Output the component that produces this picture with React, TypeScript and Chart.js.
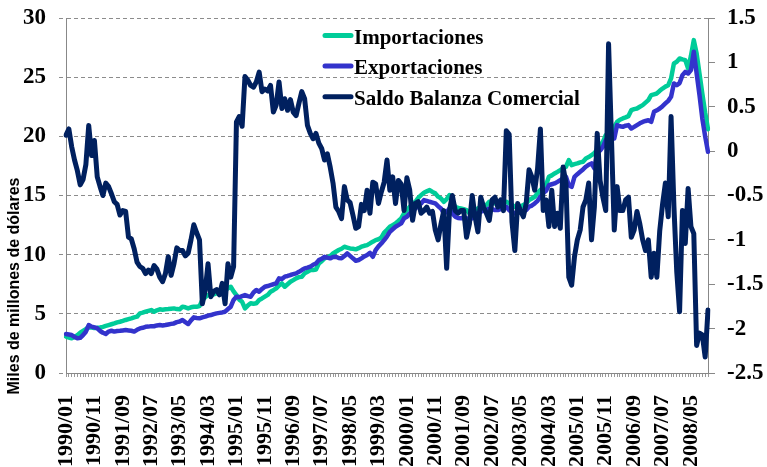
import React, { useEffect, useRef } from 'react';
import { Chart, registerables } from 'chart.js';

Chart.register(...registerables);

// Monthly categories 1990/01 .. 2008/11
const firstYear = 1990;
const monthCount = 227;
const months: string[] = [];
for (let k = 0; k < monthCount; k++) {
  const yy = firstYear + Math.floor(k / 12);
  const mm = (k % 12) + 1;
  months.push(`${yy}/${mm < 10 ? '0' + mm : mm}`);
}
const labelEvery = 10;

const seriesNames = ['Importaciones', 'Exportaciones', 'Saldo Balanza Comercial'];

const importaciones: number[] = [
  3.07, 3.00, 2.93, 3.05, 3.20, 3.40, 3.55, 3.70, 3.90, 3.85,
  3.80, 3.82, 3.85, 3.90, 3.98, 4.05, 4.12, 4.19, 4.28, 4.33,
  4.40, 4.48, 4.55, 4.62, 4.70, 4.76, 5.04, 5.10, 5.18, 5.25,
  5.32, 5.18, 5.30, 5.38, 5.35, 5.38, 5.40, 5.43, 5.46, 5.40,
  5.38, 5.60, 5.55, 5.46, 5.55, 5.60, 5.60, 5.65, 6.17, 6.40,
  6.59, 6.59, 6.65, 6.73, 6.80, 6.87, 7.01, 7.15, 7.29, 6.90,
  6.59, 6.20, 6.02, 5.46, 5.70, 5.89, 5.85, 5.89, 6.17, 6.30,
  6.45, 6.60, 6.87, 7.00, 7.15, 7.40, 7.57, 7.29, 7.50, 7.71,
  7.85, 8.00, 8.10, 8.14, 8.42, 8.55, 8.70, 8.70, 8.75, 9.26,
  9.45, 9.69, 9.80, 9.88, 10.10, 10.25, 10.39, 10.50, 10.67, 10.60,
  10.53, 10.50, 10.45, 10.55, 10.67, 10.75, 10.81, 10.95, 11.10, 11.23,
  11.30, 11.45, 11.87, 12.10, 12.36, 12.50, 12.64, 12.85, 13.07, 13.49,
  13.75, 14.05, 14.25, 14.47, 14.80, 15.03, 15.23, 15.35, 15.46, 15.30,
  15.18, 14.90, 14.75, 14.47, 14.70, 15.03, 14.50, 14.05, 13.95, 13.91,
  13.85, 13.77, 13.49, 13.60, 13.77, 13.90, 14.05, 14.12, 14.19, 14.47,
  14.40, 14.33, 14.33, 14.33, 14.40, 14.47, 14.33, 14.20, 14.05, 14.05,
  14.05, 14.20, 14.33, 14.61, 14.75, 14.89, 15.20, 15.45, 15.70, 15.90,
  16.58, 16.70, 16.86, 17.00, 17.15, 17.30, 17.43, 17.99, 17.57, 17.65,
  17.71, 17.80, 17.85, 18.13, 18.25, 18.41, 18.60, 18.83, 19.20, 19.54,
  20.10, 20.25, 20.38, 20.80, 21.22, 21.40, 21.51, 21.60, 21.71, 22.21,
  22.30, 22.35, 22.50, 22.64, 22.85, 23.06, 23.48, 23.55, 23.62, 23.85,
  24.04, 24.20, 24.32, 24.89, 26.16, 26.30, 26.58, 26.50, 26.44, 25.73,
  26.80, 28.13, 27.00, 25.31, 23.62, 22.00, 20.60,
];

const exportaciones: number[] = [
  3.29, 3.25, 3.21, 3.05, 2.93, 2.97, 3.20, 3.49, 4.05, 3.92,
  3.85, 3.78, 3.55, 3.40, 3.30, 3.50, 3.57, 3.50, 3.55, 3.57,
  3.60, 3.63, 3.60, 3.57, 3.50, 3.65, 3.77, 3.82, 3.90, 3.92,
  3.96, 3.95, 4.02, 4.05, 4.02, 4.05, 4.10, 4.15, 4.19, 4.30,
  4.35, 4.48, 4.30, 4.14, 4.45, 4.70, 4.65, 4.62, 4.70, 4.76,
  4.85, 4.90, 4.98, 5.04, 5.08, 5.12, 5.18, 5.40, 5.60, 6.17,
  6.45, 6.40, 6.50, 6.59, 6.50, 6.45, 6.80, 7.01, 6.87, 7.10,
  7.29, 7.35, 7.43, 7.50, 7.57, 8.00, 7.95, 8.14, 8.20, 8.28,
  8.35, 8.42, 8.55, 8.70, 8.84, 8.90, 8.98, 9.15, 9.26, 9.54,
  9.65, 9.82, 9.75, 9.69, 9.80, 9.82, 9.72, 9.69, 9.88, 10.11,
  9.90, 9.69, 9.49, 9.55, 9.69, 9.85, 9.97, 10.15, 9.82, 10.39,
  10.70, 10.95, 11.23, 11.55, 11.93, 12.15, 12.36, 12.50, 12.64, 13.07,
  13.20, 13.49, 13.70, 13.91, 14.15, 14.33, 14.61, 14.55, 14.47, 14.40,
  14.33, 14.10, 13.91, 13.49, 13.60, 13.91, 13.50, 13.21, 13.10, 13.07,
  13.10, 13.07, 12.92, 13.10, 13.35, 13.50, 13.63, 13.70, 13.77, 13.91,
  13.85, 13.77, 13.77, 13.85, 13.95, 14.05, 13.77, 13.60, 13.49, 13.55,
  13.63, 13.70, 13.77, 14.05, 14.15, 14.33, 14.55, 14.90, 15.20, 15.40,
  15.87, 15.95, 16.02, 16.15, 16.30, 16.45, 16.58, 15.87, 15.73, 16.58,
  16.80, 17.00, 17.20, 17.43, 17.60, 17.71, 17.29, 18.55, 18.80, 19.11,
  19.68, 19.90, 20.24, 19.82, 20.95, 20.85, 20.80, 20.90, 20.95, 20.66,
  20.80, 20.95, 21.10, 21.22, 21.30, 21.36, 21.22, 22.07, 22.20, 22.35,
  22.55, 22.78, 23.00, 23.34, 24.47, 24.32, 24.50, 25.17, 25.45, 25.31,
  25.60, 27.14, 25.31, 23.50, 21.50, 20.00, 18.69,
];

const saldo: number[] = [
  0.18, 0.25, 0.05, -0.10, -0.22, -0.38, -0.32, -0.15, 0.29, -0.05,
  0.12, -0.29, -0.40, -0.50, -0.36, -0.40, -0.48, -0.57, -0.60, -0.72,
  -0.67, -0.68, -0.97, -0.99, -1.10, -1.25, -1.30, -1.32, -1.38, -1.34,
  -1.38, -1.29, -1.33, -1.42, -1.47, -1.38, -1.19, -1.40, -1.27, -1.09,
  -1.12, -1.12, -1.18, -1.15, -1.00, -0.83, -0.92, -1.00, -1.72, -1.57,
  -1.27, -1.64, -1.58, -1.56, -1.62, -1.49, -1.72, -1.27, -1.42, -1.30,
  0.33, 0.39, 0.28, 0.84, 0.80, 0.74, 0.72, 0.78, 0.89, 0.67,
  0.70, 0.68, 0.74, 0.44, 0.52, 0.78, 0.48, 0.59, 0.46, 0.58,
  0.44, 0.40, 0.54, 0.67, 0.59, 0.29, 0.20, 0.14, 0.20, 0.09,
  0.03, -0.10, -0.03, -0.18, -0.36, -0.63, -0.68, -0.76, -0.40, -0.55,
  -0.58, -0.72, -0.87, -0.85, -0.60, -0.67, -0.44, -0.70, -0.35, -0.37,
  -0.59, -0.46, -0.35, -0.10, -0.44, -0.29, -0.59, -0.33, -0.37, -0.67,
  -0.30, -0.44, -0.78, -0.59, -0.57, -0.70, -0.67, -0.63, -0.70, -0.68,
  -0.89, -1.00, -0.82, -0.67, -1.32, -0.67, -0.50, -0.67, -0.70, -0.67,
  -0.67, -0.97, -0.82, -0.50, -0.74, -0.91, -0.52, -0.63, -0.70, -0.78,
  -0.55, -0.52, -0.63, -0.55, -0.67, 0.23, 0.19, -0.80, -1.12, -0.59,
  -0.67, -0.74, -0.59, -0.21, -0.29, -0.44, -0.20, 0.25, -0.67, -0.55,
  -0.85, -0.44, -0.85, -0.70, -0.87, -0.18, -0.36, -1.42, -1.51, -1.19,
  -1.00, -0.89, -0.63, -0.55, -0.36, -1.00, -0.63, 0.20, -0.33, -0.52,
  -0.67, 1.21, 0.16, -0.89, -0.40, -0.67, -0.67, -0.55, -0.52, -0.97,
  -0.89, -0.68, -0.82, -1.00, -1.12, -1.00, -1.42, -1.15, -1.42, -0.90,
  -0.60, -0.36, -0.74, 0.39, -0.62, -1.36, -1.81, -0.67, -1.04, -0.42,
  -0.85, -0.93, -2.19, -2.05, -2.07, -2.32, -1.79,
];

const leftTicks = { min: 0, max: 30, step: 5 };
const rightTicks = { min: -2.5, max: 1.5, step: 0.5 };
const yTitle = 'Miles de millones de dólares';

const colors = ['#00CC99', '#3333CC', '#00205F'];

const serif = '"Liberation Serif", "Times New Roman", serif';
const sans = '"Liberation Sans", Arial, sans-serif';

const overlayPlugin = {
  id: 'overlay',
  afterDraw(chart: any) {
    const ctx = chart.ctx as CanvasRenderingContext2D;
    ctx.save();
    // legend
    seriesNames.forEach((name, k) => {
      const y = 35.5 + k * 30.6;
      ctx.strokeStyle = colors[k];
      ctx.lineWidth = 5;
      ctx.lineCap = 'round';
      ctx.beginPath();
      ctx.moveTo(325, y);
      ctx.lineTo(351, y);
      ctx.stroke();
      ctx.fillStyle = '#000';
      ctx.font = `bold 21px ${serif}`;
      ctx.textAlign = 'left';
      ctx.textBaseline = 'alphabetic';
      ctx.fillText(name, 354, y + 8);
    });
    // y axis title
    ctx.translate(15, 286);
    ctx.rotate(-Math.PI / 2);
    ctx.font = `bold 16px ${sans}`;
    ctx.textAlign = 'center';
    ctx.textBaseline = 'middle';
    ctx.fillStyle = '#000';
    ctx.fillText(yTitle, 0, 0);
    ctx.restore();
  },
};

export default function App() {
  const ref = useRef<HTMLCanvasElement | null>(null);
  useEffect(() => {
    document.body.style.margin = '0';
    if (!ref.current) return;
    const chart = new Chart(ref.current, {
      type: 'line',
      data: {
        labels: months,
        datasets: [
          {
            label: seriesNames[0], data: importaciones, yAxisID: 'y',
            borderColor: colors[0], backgroundColor: colors[0], borderWidth: 4.5,
            pointRadius: 0, tension: 0, order: 2, borderJoinStyle: 'round', borderCapStyle: 'round',
          },
          {
            label: seriesNames[1], data: exportaciones, yAxisID: 'y',
            borderColor: colors[1], backgroundColor: colors[1], borderWidth: 4.5,
            pointRadius: 0, tension: 0, order: 1, borderJoinStyle: 'round', borderCapStyle: 'round',
          },
          {
            label: seriesNames[2], data: saldo, yAxisID: 'y1',
            borderColor: colors[2], backgroundColor: colors[2], borderWidth: 5,
            pointRadius: 0, tension: 0, order: 0, borderJoinStyle: 'round', borderCapStyle: 'round',
          },
        ],
      },
      options: {
        responsive: false,
        animation: false,
        devicePixelRatio: 1,
        layout: { padding: { top: 18, left: 0, right: 0, bottom: 0 } },
        plugins: { legend: { display: false }, tooltip: { enabled: false } },
        scales: {
          x: {
            type: 'category',
            offset: false,
            grid: { drawOnChartArea: false, drawTicks: true, tickLength: 4, color: '#999' },
            border: { display: true, color: '#888', width: 1 },
            ticks: {
              autoSkip: false, maxRotation: 90, minRotation: 90, padding: 18,
              color: '#000', font: { family: serif, size: 22, weight: 'bold' },
              callback: (_v: any, i: number) => (i % labelEvery === 0 ? months[i] : ''),
            },
            afterFit: (s: any) => { s.height = 94; },
          },
          y: {
            position: 'left',
            min: leftTicks.min, max: leftTicks.max,
            grid: { color: '#8c8c8c', tickLength: 7, tickBorderDash: [4, 3] },
            border: { display: true, color: '#888', dash: [4, 3] },
            ticks: {
              stepSize: leftTicks.step, padding: 13, color: '#000',
              font: { family: serif, size: 23, weight: 'bold', lineHeight: 0.4 },
            },
            afterFit: (s: any) => { s.width = 66; },
          },
          y1: {
            position: 'right',
            min: rightTicks.min, max: rightTicks.max,
            grid: { drawOnChartArea: false, tickLength: 7, color: '#888' },
            border: { display: true, color: '#888' },
            ticks: {
              stepSize: rightTicks.step, padding: 12, color: '#000',
              font: { family: serif, size: 23, weight: 'bold', lineHeight: 0.4 },
              callback: (v: any) => String(Math.round(Number(v) * 10) / 10),
            },
            afterFit: (s: any) => { s.width = 59; },
          },
        },
      },
      plugins: [overlayPlugin],
    } as any);
    return () => chart.destroy();
  }, []);
  return (
    <div style={{ width: 767, height: 467 }}>
      <canvas ref={ref} width={767} height={467} style={{ display: 'block' }} />
    </div>
  );
}
